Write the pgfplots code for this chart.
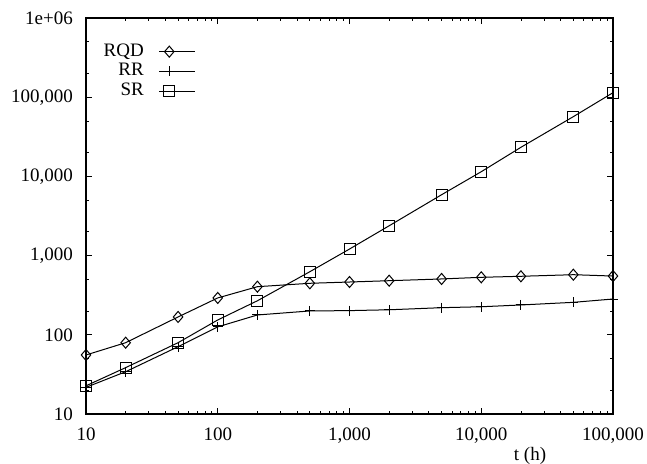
\documentclass[border=0pt]{standalone}
\usepackage{fontspec}
\setmainfont{Liberation Serif}
\usepackage{pgfplots}
\pgfplotsset{compat=1.18}

\begin{document}
\begin{tikzpicture}
\path[use as bounding box] (-86bp,-50bp) rectangle (561bp,414bp);
\begin{axis}[
  scale only axis, width=527bp, height=396bp, at={(0,0)}, anchor=south west,
  xmode=log, ymode=log,
  xmin=10, xmax=100000, ymin=10, ymax=1000000,
  xtick={10,100,1000,10000,100000},
  xticklabels={10,100,{1,000},{10,000},{100,000}},
  ytick={10,100,1000,10000,100000,1000000},
  yticklabels={10,100,{1,000},{10,000},{100,000},{1e+06}},
  minor xtick={20,30,40,50,60,70,80,90,200,300,400,500,600,700,800,900,
    2000,3000,4000,5000,6000,7000,8000,9000,20000,30000,40000,50000,60000,70000,80000,90000},
  minor ytick={20,50,200,500,2000,5000,20000,50000,200000,500000},
  tick align=inside, major tick length=6bp, minor tick length=3bp,
  tick style={black, line width=0.8bp},
  axis line style={line width=1.2bp},
  tick label style={font=\fontsize{19bp}{22bp}\selectfont, inner sep=0pt},
  yticklabel style={xshift=-13bp},
  xticklabel style={yshift=-14bp},
  xlabel={t (h)},
  xlabel style={font=\fontsize{19bp}{22bp}\selectfont, at={(axis description cs:0.8425,0)},
    anchor=center, yshift=-42bp, inner sep=0pt},
  clip=false,
  legend plot pos=right,
  legend cell align=right,
  legend image code/.code={\draw[mark repeat=2,mark phase=2,#1]
    plot coordinates {(0bp,0bp) (10bp,0bp) (36bp,0bp)};},
  legend style={draw=none, fill=none, at={(rel axis cs:0.2087,0.937)}, anchor=north east,
    font=\fontsize{19bp}{22bp}\selectfont, inner sep=0pt, column sep=15bp, row sep=2.7bp,
    nodes={inner sep=0pt, text height=13bp, text depth=4bp}},
]
\addplot[black, line width=1bp, mark=diamond, mark size=5.5bp,
  mark options={line width=1bp, xscale=1.15}]
  coordinates {(10,55.6) (20,79.5) (50,168) (100,292) (200,405) (500,447) (1000,464)
  (2000,482) (5000,507) (10000,532) (20000,548) (50000,574) (100000,552)};
\addlegendentry{RQD}
\addplot[black, line width=1bp, mark=+, mark size=5bp, mark options={line width=1bp}]
  coordinates {(10,21.7) (20,34.2) (50,70.8) (100,126) (200,178) (500,200) (1000,202)
  (2000,207) (5000,220) (10000,226) (20000,238) (50000,257) (100000,283)};
\addlegendentry{RR}
\addplot[black, line width=1bp, mark=square, mark size=5.5bp, mark options={line width=1bp}]
  coordinates {(10,22.7) (20,38.5) (50,79.5) (100,154) (200,269) (500,626) (1000,1210)
  (2000,2380) (5000,5870) (10000,11460) (20000,23300) (50000,56800) (100000,114000)};
\addlegendentry{SR}
\end{axis}
\end{tikzpicture}
\end{document}
